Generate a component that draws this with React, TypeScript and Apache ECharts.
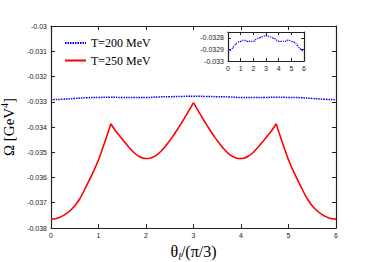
import React, { useEffect, useRef } from "react";
import * as echarts from "echarts";

const thetaRed = [
  0.0, 0.15, 0.3, 0.45, 0.6, 0.75, 0.9, 1.0, 1.1, 1.2, 1.26, 1.35, 1.45, 1.55, 1.65, 1.75, 1.85, 1.95,
  2.05, 2.15, 2.25, 2.35, 2.45, 2.55, 2.65, 2.75, 2.85, 2.95, 3.0,
  3.05, 3.15, 3.25, 3.35, 3.45, 3.55, 3.65, 3.75, 3.85, 3.95, 4.05, 4.15, 4.25, 4.35, 4.45, 4.55,
  4.65, 4.74, 4.8, 4.9, 5.0, 5.1, 5.25, 5.4, 5.55, 5.7, 5.85, 6.0,
];
const omega250 = [
  -0.03765, -0.0376, -0.03746, -0.03723, -0.03686, -0.03632, -0.03574, -0.0353, -0.03477, -0.03422,
  -0.03387, -0.03413, -0.03437, -0.0346, -0.03482, -0.03502, -0.03516, -0.03524, -0.03525, -0.03519,
  -0.03507, -0.03489, -0.03466, -0.03441, -0.03413, -0.03383, -0.03352, -0.0332, -0.03304,
  -0.0332, -0.03352, -0.03383, -0.03413, -0.03441, -0.03466, -0.03489, -0.03507, -0.03519, -0.03525,
  -0.03524, -0.03516, -0.03502, -0.03482, -0.0346, -0.03437, -0.03413, -0.03387, -0.03422, -0.03477,
  -0.0353, -0.03574, -0.03632, -0.03686, -0.03723, -0.03746, -0.0376, -0.03765,
];
// cusp positions (theta values where the T=250 MeV curve has kinks)
const cusps = [1.26, 3.0, 4.74];
const thetaBlue = [
  0, 0.25, 0.5, 0.75, 1.0, 1.25, 1.5, 1.75, 2.0, 2.25, 2.5, 2.75, 3.0, 3.25, 3.5, 3.75, 4.0, 4.25,
  4.5, 4.75, 5.0, 5.25, 5.5, 5.75, 6.0,
];
const omega200 = [
  -0.03292, -0.0329, -0.03287, -0.03284, -0.03283, -0.03282, -0.03283, -0.03283, -0.03283, -0.03281,
  -0.0328, -0.03279, -0.03278, -0.03279, -0.0328, -0.03281, -0.03283, -0.03283, -0.03283, -0.03282,
  -0.03283, -0.03284, -0.03287, -0.0329, -0.03292,
];
const seriesNames = ["T=200 MeV", "T=250 MeV"];
const xTicks = [0, 6, 1];
const yMain = [-0.038, -0.03, 0.001];
const yInset = [-0.033, -0.03275, 0.0001];

const labelFont = "Liberation Sans";
const serif = "Liberation Serif";

function makeAxisX(gridIndex: number, pos: string, labels: boolean, extra: any = {}) {
  return {
    type: "value",
    gridIndex,
    position: pos,
    min: xTicks[0],
    max: xTicks[1],
    interval: xTicks[2],
    axisLine: { show: true, onZero: false, lineStyle: { color: "#222", width: 1.2 } },
    axisTick: { show: true, inside: true, length: gridIndex === 0 ? 4 : 3, lineStyle: { color: "#222" } },
    axisLabel: {
      show: labels,
      fontSize: 7,
      fontFamily: labelFont,
      color: "#222",
      margin: 4,
    },
    splitLine: { show: false },
    ...extra,
  };
}

function makeAxisY(gridIndex: number, pos: string, labels: boolean, rng: number[], dec: number, extra: any = {}) {
  return {
    type: "value",
    gridIndex,
    position: pos,
    min: rng[0],
    max: rng[1],
    interval: rng[2],
    axisLine: { show: true, onZero: false, lineStyle: { color: "#222", width: 1.2 } },
    axisTick: { show: true, inside: true, length: gridIndex === 0 ? 4 : 3, lineStyle: { color: "#222" } },
    axisLabel: {
      show: labels,
      fontSize: 7,
      fontFamily: labelFont,
      color: "#222",
      margin: 4,
      showMaxLabel: gridIndex === 0,
      formatter: (v: number) => String(parseFloat(v.toFixed(dec))),
    },
    splitLine: { show: false },
    ...extra,
  };
}

export default function App() {
  const ref = useRef<HTMLDivElement>(null);
  useEffect(() => {
    if (!ref.current) return;
    const chart = echarts.init(ref.current, undefined, { renderer: "svg" });
    const redData = thetaRed.map((x, i) => [x, omega250[i]]);
    const blueData = thetaBlue.map((x, i) => [x, omega200[i]]);
    // split the red curve at its cusps so each smooth piece keeps a sharp kink
    const bounds = [0, ...cusps, 6];
    const redSegments: number[][][] = [];
    for (let s = 0; s < bounds.length - 1; s++) {
      redSegments.push(redData.filter((p) => p[0] >= bounds[s] - 1e-9 && p[0] <= bounds[s + 1] + 1e-9));
    }
    const redSeries = redSegments.map((seg) => ({
      name: seriesNames[1],
      type: "line",
      xAxisIndex: 0,
      yAxisIndex: 0,
      data: seg,
      smooth: 0.35,
      symbol: "none",
      lineStyle: { color: "#ff0000", width: 1.6 },
      itemStyle: { color: "#ff0000" },
    }));
    chart.setOption({
      animation: false,
      backgroundColor: "#fff",
      grid: [
        { left: 51, top: 26, right: 38, bottom: 34, outerBoundsMode: "none", containLabel: false },
        { left: 228, top: 32, width: 76, height: 29, outerBoundsMode: "none", containLabel: false },
      ],
      legend: {
        data: seriesNames,
        orient: "vertical",
        left: 59,
        top: 32,
        itemWidth: 21,
        itemHeight: 10,
        itemGap: 5.5,
        itemStyle: { opacity: 0 },
        textStyle: { fontFamily: serif, fontSize: 12, color: "#000" },
      },
      xAxis: [
        makeAxisX(0, "bottom", true, {
          name: "θ{sub|l}/(π/3)",
          nameLocation: "middle",
          nameGap: 11,
          nameTextStyle: {
            fontFamily: serif,
            fontSize: 16,
            color: "#000",
            verticalAlign: "top",
            rich: { sub: { fontFamily: serif, fontSize: 10, fontStyle: "italic", verticalAlign: "bottom", padding: [10, 0, 0, 0] } },
          },
        }),
        makeAxisX(0, "top", false),
        makeAxisX(1, "bottom", true),
        makeAxisX(1, "top", false),
      ],
      yAxis: [
        makeAxisY(0, "left", true, yMain, 3, {
          name: "Ω [GeV{sup|4}]",
          nameLocation: "middle",
          nameRotate: 90,
          nameGap: 28,
          nameTextStyle: {
            fontFamily: serif,
            fontSize: 15,
            color: "#000",
            rich: { sup: { fontFamily: serif, fontSize: 10, verticalAlign: "top", padding: [0, 0, 8, 0] } },
          },
        }),
        makeAxisY(0, "right", false, yMain, 3),
        makeAxisY(1, "left", true, yInset, 4),
        makeAxisY(1, "right", false, yInset, 4),
      ],
      series: [
        {
          name: seriesNames[0],
          type: "line",
          xAxisIndex: 0,
          yAxisIndex: 0,
          data: blueData,
          smooth: true,
          symbol: "none",
          lineStyle: { color: "#0000ff", width: 1.5, type: [1.5, 1] },
          itemStyle: { color: "#0000ff" },
        },
        ...redSeries,
        {
          name: "inset",
          type: "line",
          xAxisIndex: 2,
          yAxisIndex: 2,
          data: blueData,
          smooth: true,
          symbol: "none",
          lineStyle: { color: "#0000ff", width: 1.3, type: [1.3, 1] },
        },
      ],
    });
    return () => chart.dispose();
  }, []);
  return <div ref={ref} style={{ width: 374, height: 262, position: "absolute", left: 0, top: 0 }} />;
}
